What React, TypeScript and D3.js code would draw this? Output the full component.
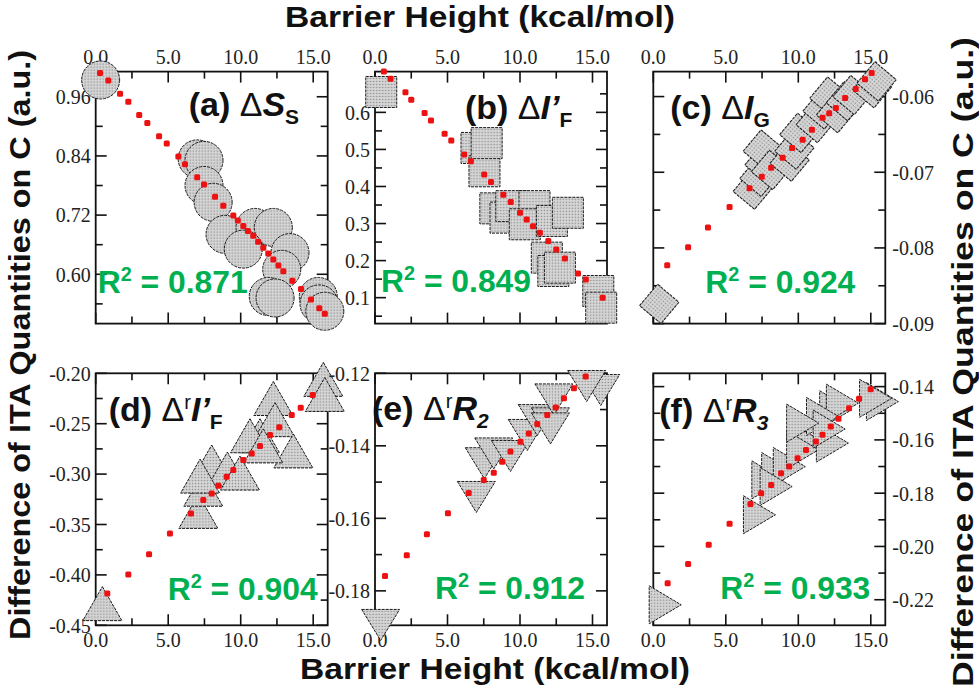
import React from "react";
import * as d3 from "d3";

// ---------- shared axis ticks ----------
const xMajor = [0, 5, 10, 15];
const xMinor = [2.5, 7.5, 12.5];

// ---------- (a) ΔS_S ----------
const aX = [0.34, 7.0, 7.47, 7.47, 8.1, 8.92, 10.99, 12.25, 10.18, 13.4, 12.83, 11.9, 12.37, 15.35, 15.4, 15.8];
const aY = [0.994, 0.834, 0.831, 0.78, 0.746, 0.681, 0.695, 0.695, 0.651, 0.644, 0.61, 0.555, 0.552, 0.555, 0.54, 0.525];
const aFitX = [0.3, 0.87, 1.68, 2.25, 3.0, 3.56, 4.37, 4.9, 5.7, 6.16, 7.0, 7.47, 8.23, 8.8, 9.49, 9.8, 10.18, 10.5, 10.87, 11.2, 11.56, 11.9, 12.25, 12.6, 12.94, 13.56, 14.16, 14.85, 15.42, 15.8];
const aFitY = [1.008, 0.993, 0.966, 0.95, 0.923, 0.907, 0.88, 0.865, 0.839, 0.823, 0.797, 0.782, 0.757, 0.739, 0.719, 0.709, 0.698, 0.688, 0.678, 0.666, 0.654, 0.642, 0.63, 0.618, 0.606, 0.587, 0.57, 0.549, 0.531, 0.52];

// ---------- (b) ΔI'_F ----------
const bX = [0.43, 7.0, 7.55, 7.7, 8.3, 9.0, 9.4, 11.0, 10.33, 12.2, 13.3, 11.85, 12.3, 12.75, 15.4, 15.6];
const bY = [0.655, 0.504, 0.441, 0.517, 0.341, 0.316, 0.347, 0.347, 0.298, 0.307, 0.329, 0.208, 0.172, 0.181, 0.118, 0.073];
const bFitX = [0.61, 1.07, 2.1, 2.5, 3.42, 3.86, 4.8, 5.26, 6.15, 6.61, 7.53, 8.0, 8.85, 9.36, 10.0, 10.46, 10.9, 11.37, 11.95, 12.5, 13.1, 14.0, 14.54, 15.7];
const bFitY = [0.71, 0.691, 0.654, 0.634, 0.598, 0.578, 0.542, 0.524, 0.486, 0.468, 0.432, 0.412, 0.378, 0.358, 0.329, 0.311, 0.293, 0.275, 0.253, 0.23, 0.206, 0.165, 0.149, 0.1];

// ---------- (c) ΔI_G ----------
const cX = [0.41, 6.86, 7.32, 7.67, 7.55, 8.12, 9.4, 9.73, 10.07, 11.2, 11.67, 12.14, 12.6, 13.28, 13.74, 15.1, 15.4];
const cY = [-0.0874, -0.0723, -0.0706, -0.0688, -0.067, -0.0697, -0.0686, -0.067, -0.0648, -0.0635, -0.0617, -0.06, -0.0622, -0.0606, -0.0598, -0.0589, -0.058];
const cFitX = [0.96, 2.4, 3.77, 5.26, 6.64, 7.48, 8.13, 8.92, 9.57, 10.3, 10.94, 11.67, 12.13, 12.59, 13.23, 13.96, 14.6, 15.06];
const cFitY = [-0.0823, -0.0799, -0.0773, -0.0746, -0.0721, -0.0706, -0.0694, -0.0681, -0.0668, -0.0657, -0.0644, -0.0628, -0.0622, -0.0615, -0.0602, -0.059, -0.0577, -0.0569];

// ---------- (d) ΔrI'_F ----------
const dX = [0.46, 8.0, 9.08, 7.08, 7.42, 7.2, 11.33, 12.25, 12.37, 13.63, 10.64, 11.56, 15.7, 15.8, 9.95];
const dY = [-0.4285, -0.288, -0.295, -0.337, -0.315, -0.302, -0.262, -0.225, -0.246, -0.277, -0.262, -0.272, -0.206, -0.221, -0.299];
const dFitX = [0.8, 2.25, 3.68, 5.12, 6.57, 7.42, 8.0, 8.46, 9.03, 9.49, 10.18, 10.76, 11.33, 12.02, 12.66, 13.52, 14.14, 14.97];
const dFitY = [-0.4185, -0.3997, -0.3795, -0.3589, -0.3391, -0.3258, -0.3192, -0.3116, -0.3027, -0.296, -0.2861, -0.2795, -0.2722, -0.2613, -0.2536, -0.2414, -0.2342, -0.2216];

// ---------- (e) ΔrR_2 ----------
const eX = [0.39, 6.99, 7.54, 8.19, 9.34, 10.5, 11.19, 12.1, 12.34, 12.1, 15.57, 14.6];
const eY = [-0.1894, -0.1541, -0.1448, -0.1421, -0.1428, -0.137, -0.1329, -0.1338, -0.1272, -0.1352, -0.1246, -0.1235];
const eFitX = [0.69, 2.19, 3.58, 5.03, 6.46, 7.5, 8.19, 8.77, 9.34, 10.03, 10.61, 11.19, 11.88, 12.46, 13.03, 13.72, 14.53];
const eFitY = [-0.1759, -0.1702, -0.1644, -0.1586, -0.153, -0.1494, -0.1474, -0.1444, -0.1416, -0.1389, -0.1366, -0.134, -0.1315, -0.1294, -0.1269, -0.1241, -0.1209];

// ---------- (f) ΔrR_3 ----------
const fX = [0.82, 7.32, 7.9, 8.58, 9.38, 10.75, 10.3, 12.35, 12.58, 13.04, 11.67, 12.13, 15.8, 15.33, 10.3, 8.47];
const fY = [-0.2219, -0.1881, -0.175, -0.1719, -0.17, -0.1612, -0.1637, -0.1612, -0.1487, -0.1462, -0.1512, -0.1559, -0.1456, -0.1444, -0.1537, -0.1775];
const fFitX = [0.99, 2.4, 3.82, 5.26, 6.7, 7.44, 8.13, 8.81, 9.38, 9.95, 10.53, 11.21, 11.67, 12.24, 12.77, 13.5, 14.19, 14.99];
const fFitY = [-0.2138, -0.2066, -0.1994, -0.1915, -0.1841, -0.18, -0.1769, -0.1725, -0.17, -0.1669, -0.1638, -0.1606, -0.1581, -0.155, -0.1521, -0.1481, -0.1446, -0.141];

const r2Labels = ["0.871", "0.849", "0.924", "0.904", "0.912", "0.933"];
const xTitle = "Barrier Height (kcal/mol)";
const yTitle = "Difference of ITA Quantities on C (a.u.)";

type Panel = {
  id: string; col: number; row: number;
  xs: number[]; ys: number[]; fx: number[]; fy: number[];
  yDomain: [number, number]; yMajor: number[]; yMinor: number[]; dec: number;
  ySide: "left" | "right"; marker: string;
  tx: number; ty: number; rx: number; ry: number; r2: string;
};

const panels: Panel[] = [
  { id: "a", col: 0, row: 0, xs: aX, ys: aY, fx: aFitX, fy: aFitY, yDomain: [0.5, 1.011], yMajor: [0.6, 0.72, 0.84, 0.96], yMinor: [0.54, 0.66, 0.78, 0.9], dec: 2, ySide: "left", marker: "circle", tx: 93, ty: 44, rx: 2, ry: 221, r2: r2Labels[0] },
  { id: "b", col: 1, row: 0, xs: bX, ys: bY, fx: bFitX, fy: bFitY, yDomain: [0.03, 0.71], yMajor: [0.1, 0.2, 0.3, 0.4, 0.5, 0.6], yMinor: [0.05, 0.15, 0.25, 0.35, 0.45, 0.55, 0.65], dec: 1, ySide: "left", marker: "square", tx: 90, ty: 47, rx: 6, ry: 220, r2: r2Labels[1] },
  { id: "c", col: 2, row: 0, xs: cX, ys: cY, fx: cFitX, fy: cFitY, yDomain: [-0.09, -0.0567], yMajor: [-0.09, -0.08, -0.07, -0.06], yMinor: [-0.085, -0.075, -0.065], dec: 2, ySide: "right", marker: "diamond", tx: 17, ty: 47, rx: 52, ry: 221, r2: r2Labels[2] },
  { id: "d", col: 0, row: 1, xs: dX, ys: dY, fx: dFitX, fy: dFitY, yDomain: [-0.45, -0.2], yMajor: [-0.45, -0.4, -0.35, -0.3, -0.25, -0.2], yMinor: [-0.425, -0.375, -0.325, -0.275, -0.225], dec: 2, ySide: "left", marker: "triUp", tx: 13, ty: 48, rx: 72, ry: 227, r2: r2Labels[3] },
  { id: "e", col: 1, row: 1, xs: eX, ys: eY, fx: eFitX, fy: eFitY, yDomain: [-0.1895, -0.12], yMajor: [-0.18, -0.16, -0.14, -0.12], yMinor: [-0.17, -0.15, -0.13], dec: 2, ySide: "left", marker: "triDown", tx: -3, ty: 47, rx: 60, ry: 226, r2: r2Labels[4] },
  { id: "f", col: 2, row: 1, xs: fX, ys: fY, fx: fFitX, fy: fFitY, yDomain: [-0.2296, -0.135], yMajor: [-0.22, -0.2, -0.18, -0.16, -0.14], yMinor: [-0.21, -0.19, -0.17, -0.15], dec: 2, ySide: "right", marker: "triRight", tx: 6, ty: 49, rx: 67, ry: 226, r2: r2Labels[5] },
];

const colX = [95.7, 375, 653.3];
const rowY = [71.6, 373.3];
const PW = 232;
const PH = 252;

const sansBold = "Liberation Sans, Arial, sans-serif";
const serif = "Liberation Serif, Times New Roman, DejaVu Serif, serif";
const TICK_FS = 21;

// approximate Times-like advance widths, used only to size tick text
function tickWidth(s: string): number {
  let w = 0;
  for (const ch of s) w += ch === "." ? 0.25 : ch === "-" ? 0.333 : 0.5;
  return w * TICK_FS * 0.95;
}

function markerPath(kind: string): string {
  switch (kind) {
    case "square": return "M-15.5,-15.5H15.5V15.5H-15.5Z";
    case "diamond": return "M-14,-14H14V14H-14Z";
    case "triUp": return "M0,-17L19.5,17L-19.5,17Z";
    case "triDown": return "M-19,-15.5L19,-15.5L0,15.5Z";
    case "triRight": return "M-16,-19L16,0L-16,19Z";
    default: return "";
  }
}

function Title({ id }: { id: string }) {
  const d = <tspan fontWeight="normal">Δ</tspan>;
  const sub = (t: string, it = false) => (
    <tspan fontSize="21" dy="8" fontStyle={it ? "italic" : "normal"}>{t}</tspan>
  );
  const sup = (t: string) => <tspan fontSize="20" dy="-12" fontWeight="normal">{t}</tspan>;
  switch (id) {
    case "a": return <>(a) {d}<tspan fontStyle="italic">S</tspan>{sub("S")}</>;
    case "b": return <>(b) {d}<tspan fontStyle="italic">I’</tspan>{sub("F")}</>;
    case "c": return <>(c) {d}<tspan fontStyle="italic">I</tspan>{sub("G")}</>;
    case "d": return <>(d) {d}{sup("r")}<tspan dy="12" fontStyle="italic">I’</tspan>{sub("F")}</>;
    case "e": return <>(e) {d}{sup("r")}<tspan dy="12" fontStyle="italic">R</tspan>{sub("2", true)}</>;
    case "f": return <>(f) {d}{sup("r")}<tspan dy="12" fontStyle="italic">R</tspan>{sub("3", true)}</>;
  }
  return null;
}

function TickText({ x, y, anchor, s, dy }: { x: number; y: number; anchor: string; s: string; dy?: string }) {
  return (
    <text x={x} y={y} dy={dy} textAnchor={anchor} fontFamily={serif} fontSize={TICK_FS} fill="#222"
      textLength={tickWidth(s)} lengthAdjust="spacingAndGlyphs">{s}</text>
  );
}

function PanelView({ p }: { p: Panel }) {
  const x0 = colX[p.col];
  const y0 = rowY[p.row];
  const x = d3.scaleLinear().domain([0, 16]).range([0, PW]);
  const y = d3.scaleLinear().domain(p.yDomain).range([PH, 0]);
  const top = p.row === 0;
  const majL = 11, minL = 7;
  return (
    <g transform={`translate(${x0},${y0})`}>
      <g stroke="#111" strokeWidth={1.6}>
        {xMajor.map((v) => (
          <g key={"xm" + v}>
            <line x1={x(v)} x2={x(v)} y1={0} y2={majL} />
            <line x1={x(v)} x2={x(v)} y1={PH} y2={PH - majL} />
          </g>
        ))}
        {xMinor.map((v) => (
          <g key={"xn" + v}>
            <line x1={x(v)} x2={x(v)} y1={0} y2={minL} />
            <line x1={x(v)} x2={x(v)} y1={PH} y2={PH - minL} />
          </g>
        ))}
        {p.yMajor.map((v) => (
          <g key={"ym" + v}>
            <line x1={0} x2={majL} y1={y(v)} y2={y(v)} />
            <line x1={PW} x2={PW - majL} y1={y(v)} y2={y(v)} />
          </g>
        ))}
        {p.yMinor.map((v) => (
          <g key={"yn" + v}>
            <line x1={0} x2={minL} y1={y(v)} y2={y(v)} />
            <line x1={PW} x2={PW - minL} y1={y(v)} y2={y(v)} />
          </g>
        ))}
      </g>
      <rect x={0} y={0} width={PW} height={PH} fill="none" stroke="#111" strokeWidth={1.8} />
      <g>
        {xMajor.map((v) => (
          <TickText key={"xl" + v} x={x(v)} y={top ? -8 : PH + 22} anchor="middle" s={v.toFixed(1)} />
        ))}
        {p.yMajor.map((v) => (
          <TickText key={"yl" + v} x={p.ySide === "left" ? -5 : PW + 7} y={y(v)} dy="0.35em" anchor={p.ySide === "left" ? "end" : "start"} s={v.toFixed(p.dec)} />
        ))}
      </g>
      <g fill="url(#dots)" stroke="#1a1a1a" strokeWidth={1} strokeDasharray="3 1">
        {p.xs.map((xv, i) =>
          p.marker === "circle" ? (
            <circle key={i} cx={x(xv)} cy={y(p.ys[i])} r={19} />
          ) : (
            <path key={i} d={markerPath(p.marker)} transform={`translate(${x(xv)},${y(p.ys[i])})${p.marker === "diamond" ? " rotate(40)" : ""}`} />
          )
        )}
      </g>
      <g fill="#ee1111">
        {p.fx.map((xv, i) => (
          <rect key={i} x={x(xv) - 3} y={y(p.fy[i]) - 3} width={6} height={6} rx={1.5} />
        ))}
      </g>
      <text x={p.tx} y={p.ty} fontFamily={sansBold} fontWeight="bold" fontSize={34} fill="#111">
        <Title id={p.id} />
      </text>
      <text x={p.rx} y={p.ry} fontFamily={sansBold} fontWeight="bold" fontSize={32} fill="#00b050" textLength={150} lengthAdjust="spacingAndGlyphs">
        R<tspan fontSize={20} dy={-12}>2</tspan><tspan dy={12}> = {p.r2}</tspan>
      </text>
    </g>
  );
}

export default function App() {
  return (
    <svg width={979} height={687} viewBox="0 0 979 687" style={{ position: "absolute", left: 0, top: 0, background: "#fff" }}>
      <defs>
        <pattern id="dots" width={3} height={3} patternUnits="userSpaceOnUse">
          <rect width={3} height={3} fill="#d6d6d6" />
          <circle cx={1.5} cy={1.5} r={0.75} fill="#8a8a8a" />
        </pattern>
      </defs>
      <rect width={979} height={687} fill="#fff" />
      {panels.map((p) => <PanelView key={p.id} p={p} />)}
      <g fontFamily="Liberation Sans Narrow, Liberation Sans, Arial, sans-serif" fontWeight="bold" fill="#111">
        <text x={480} y={27} fontSize={30} textAnchor="middle" textLength={390} lengthAdjust="spacingAndGlyphs">{xTitle}</text>
        <text x={495} y={679} fontSize={30} textAnchor="middle" textLength={390} lengthAdjust="spacingAndGlyphs">{xTitle}</text>
      </g>
      <g fontFamily={sansBold} fontWeight="bold" fill="#111">
        <text transform="translate(30,345) rotate(-90)" fontSize={29} textAnchor="middle" textLength={590} lengthAdjust="spacingAndGlyphs">{yTitle}</text>
        <text transform="translate(973,362) rotate(-90)" fontSize={30} textAnchor="middle" textLength={650} lengthAdjust="spacingAndGlyphs">{yTitle}</text>
      </g>
    </svg>
  );
}
